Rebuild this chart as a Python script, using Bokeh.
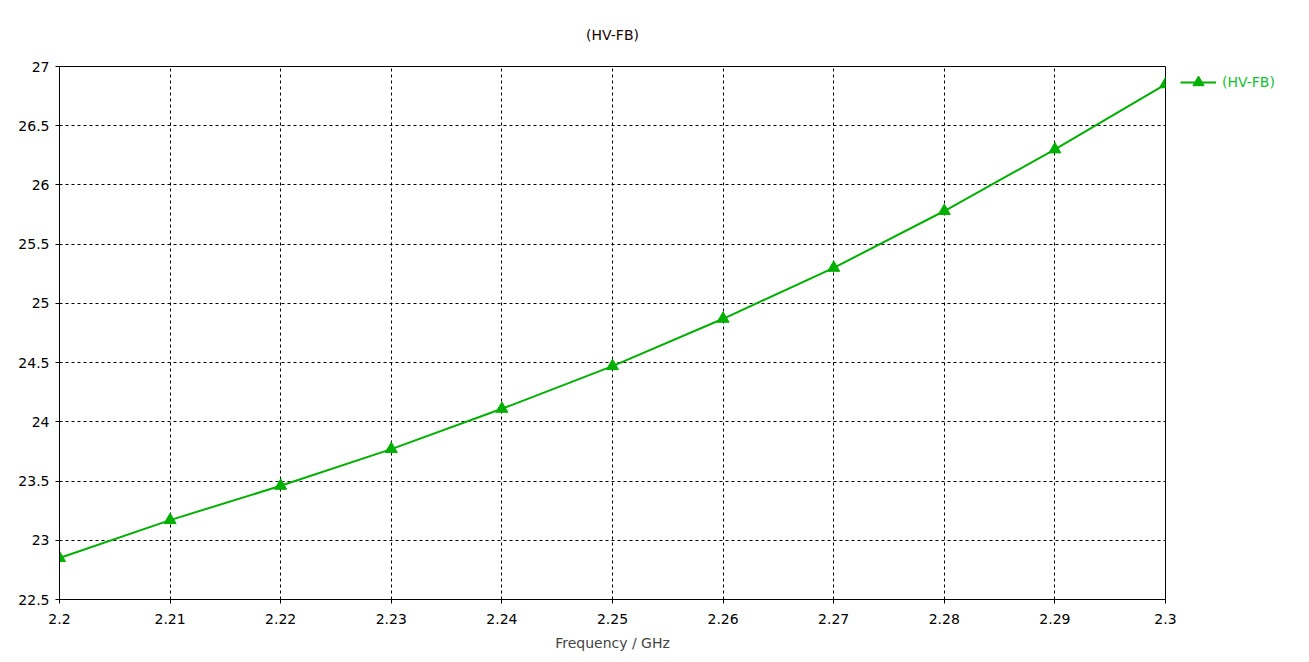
from bokeh.plotting import figure
from bokeh.models import ColumnDataSource, Range1d, FixedTicker, Legend, LegendItem
from bokeh.embed import file_html
from bokeh.resources import INLINE

freq = [2.20, 2.21, 2.22, 2.23, 2.24, 2.25, 2.26, 2.27, 2.28, 2.29, 2.30]
hv_fb = [22.85, 23.17, 23.46, 23.77, 24.11, 24.47, 24.87, 25.30, 25.78, 26.30, 26.85]
x_ticks = [2.20, 2.21, 2.22, 2.23, 2.24, 2.25, 2.26, 2.27, 2.28, 2.29, 2.30]
y_ticks = [22.5, 23, 23.5, 24, 24.5, 25, 25.5, 26, 26.5, 27]
x_labels = {2.20: "2.2", 2.21: "2.21", 2.22: "2.22", 2.23: "2.23", 2.24: "2.24", 2.25: "2.25",
            2.26: "2.26", 2.27: "2.27", 2.28: "2.28", 2.29: "2.29", 2.30: "2.3"}
y_labels = {22.5: "22.5", 23: "23", 23.5: "23.5", 24: "24", 24.5: "24.5", 25: "25",
            25.5: "25.5", 26: "26", 26.5: "26.5", 27: "27"}

FONT = "DejaVu Sans"
GREEN = "#00b000"
FS = "14px"

p = figure(frame_width=1106, frame_height=533, output_backend="svg", toolbar_location=None,
           x_range=Range1d(2.2, 2.3), y_range=Range1d(22.5, 27),
           min_border_left=59, min_border_right=128, min_border_top=66, min_border_bottom=47,
           title="(HV-FB)")
p.title.align = "center"
p.title.text_font = FONT
p.title.text_font_size = FS
p.title.text_font_style = "normal"
p.title.text_color = "#200000"
p.title.offset = 0
p.title.standoff = 47

p.outline_line_color = "black"
p.outline_line_width = 1
p.background_fill_color = "white"
p.border_fill_color = "white"

ds = ColumnDataSource(dict(x=freq, y=hv_fb))
r_line = p.line("x", "y", source=ds, line_color=GREEN, line_width=2)
r_mark = p.scatter("x", "y", source=ds, marker="triangle", size=12,
                   fill_color=GREEN, line_color=GREEN)

p.xaxis.ticker = FixedTicker(ticks=x_ticks)
p.yaxis.ticker = FixedTicker(ticks=y_ticks)
p.xaxis.major_label_overrides = x_labels
p.yaxis.major_label_overrides = y_labels
for ax in (p.xaxis[0], p.yaxis[0]):
    ax.major_label_text_font = FONT
    ax.major_label_text_font_size = FS
    ax.major_label_text_color = "black"
    ax.axis_line_color = "black"
    ax.major_tick_line_color = "black"
    ax.major_tick_in = 0
    ax.major_tick_out = 4
    ax.minor_tick_line_color = None
p.xaxis.major_label_standoff = 10
p.yaxis.major_label_standoff = 6
p.xaxis.axis_label = "Frequency / GHz"
p.xaxis.axis_label_text_font = FONT
p.xaxis.axis_label_text_font_size = FS
p.xaxis.axis_label_text_font_style = "normal"
p.xaxis.axis_label_standoff = 8

for g in (p.xgrid[0], p.ygrid[0]):
    g.grid_line_color = "black"
    g.grid_line_dash = "3 3"
    g.grid_line_width = 1

legend = Legend(items=[LegendItem(label="(HV-FB)", renderers=[r_line, r_mark])],
                location=(15, 503), border_line_color=None, background_fill_alpha=0,
                label_text_font=FONT, label_text_font_size=FS, label_text_color="#10c030",
                glyph_width=36, glyph_height=28, label_height=28, padding=0, margin=0,
                label_standoff=6)
p.add_layout(legend, "right")

open("out.html", "w").write(file_html(p, INLINE))
